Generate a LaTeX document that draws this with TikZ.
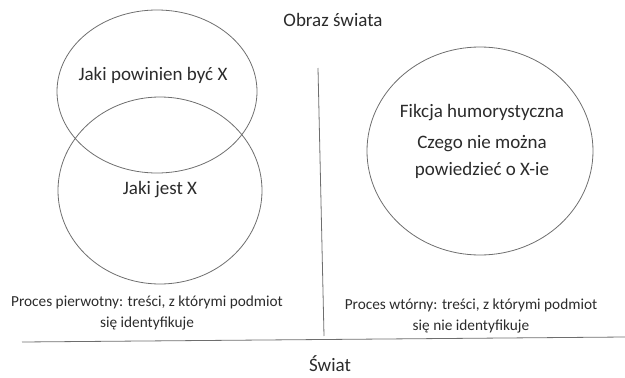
\documentclass[tikz,border=0pt]{standalone}
\usepackage{fontspec}
\setmainfont{Carlito}
\usetikzlibrary{shapes.geometric}
\definecolor{ink}{HTML}{2B2B2B}
\definecolor{linec}{HTML}{6E6E6E}
\begin{document}
\begin{tikzpicture}[x=1pt,y=-1pt,
  oval/.style={draw=linec,line width=0.8pt,ellipse,inner sep=0pt},
  big/.style={font=\fontsize{19}{22}\selectfont,text=ink,inner sep=0pt},
  small/.style={font=\fontsize{15.3}{21}\selectfont,text=ink,inner sep=0pt,align=center},
  rule/.style={draw=linec,line width=0.8pt}]
\useasboundingbox (0,0) rectangle (625,378);
% ellipses
\node[oval,minimum width=200pt,minimum height=163pt] (top) at (157,91.5) {};
\node[oval,minimum width=204pt,minimum height=187pt] (bot) at (160,190.5) {};
\node[oval,minimum width=226pt,minimum height=208pt] (right) at (480,151) {};
% texts
\node[big] (obraz) at (333,20) {Obraz świata};
\node[big] (pow) at (153,75) {Jaki powinien być X};
\node[big] (jest) at (160,190) {Jaki jest X};
\node[big] (fik) at (482,113) {Fikcja humorystyczna};
\node[big] (czego) at (482,144) {Czego nie można};
\node[big] (powie) at (482,170) {powiedzieć o X-ie};
\node[small] (pp) at (147,313) {Proces pierwotny: treści, z którymi podmiot\\się identyfikuje};
\node[small] (pw) at (471,316) {Proces wtórny: treści, z którymi podmiot\\się nie identyfikuje};
\node[big] (swiat) at (330,364) {Świat};
% lines
\coordinate (vtop) at (318,68);
\coordinate (vbot) at (324,336);
\coordinate (hl) at (22,342);
\coordinate (hr) at (625,337);
\draw[rule] (vtop) -- (vbot);
\draw[rule] (hl) -- (hr);
\end{tikzpicture}
\end{document}
